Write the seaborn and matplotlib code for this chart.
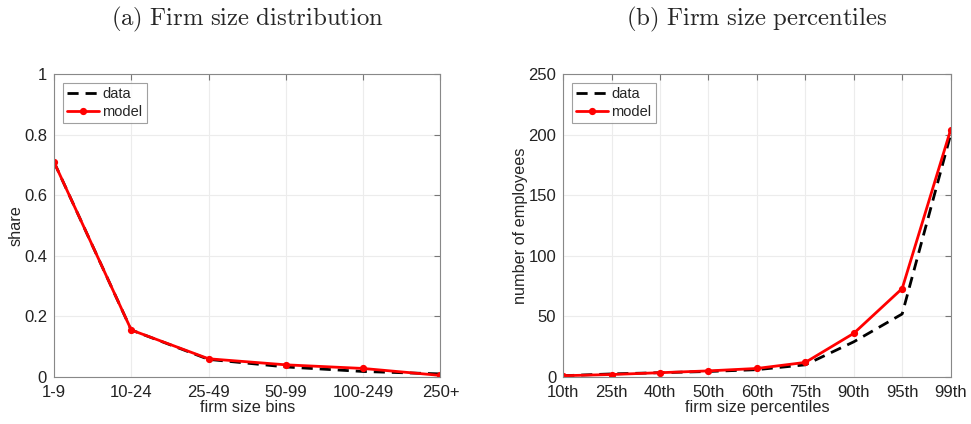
import matplotlib
matplotlib.use("Agg")
import matplotlib.pyplot as plt
import numpy as np
import pandas as pd
import seaborn as sns

# ------------------------------------------------------------------
# data
# ------------------------------------------------------------------
bins = ["1-9", "10-24", "25-49", "50-99", "100-249", "250+"]
share_data = [0.71, 0.155, 0.058, 0.033, 0.018, 0.010]
share_model = [0.71, 0.155, 0.060, 0.040, 0.028, 0.005]

pct = ["10th", "25th", "40th", "50th", "60th", "75th", "90th", "95th", "99th"]
emp_data = [1.0, 2.5, 3.5, 4.5, 6.0, 10.0, 29.0, 52.0, 200.0]
emp_model = [1.0, 2.0, 3.5, 5.0, 7.0, 12.0, 36.0, 73.0, 204.0]

sns.set_style("whitegrid")
plt.rcParams["font.family"] = ["Liberation Sans", "DejaVu Sans"]
plt.rcParams["mathtext.fontset"] = "cm"

fig = plt.figure(figsize=(9.71, 4.24), dpi=100)
ax1 = fig.add_axes([0.0556, 0.111, 0.398, 0.714])
ax2 = fig.add_axes([0.580, 0.111, 0.399, 0.714])


def draw(ax, cats, d, m, ylim, yticks, ylabel, xlabel, title):
    x = np.arange(len(cats))
    df = pd.DataFrame({"x": np.concatenate([x, x]),
                       "y": d + m,
                       "series": ["data"] * len(x) + ["model"] * len(x)})
    sns.lineplot(data=df[df.series == "data"], x="x", y="y", ax=ax,
                 color="black", linestyle=(0, (4, 2.5)), linewidth=2, label="data")
    sns.lineplot(data=df[df.series == "model"], x="x", y="y", ax=ax,
                 color="#ff0000", linewidth=2, marker="o", markersize=4,
                 markeredgewidth=1.2, markeredgecolor="#ff0000", label="model")
    ax.set_xlim(0, len(cats) - 1)
    ax.set_ylim(*ylim)
    ax.set_xticks(x)
    ax.set_xticklabels(cats)
    ax.set_yticks(yticks)
    ax.set_yticklabels([f"{t:g}" for t in yticks])
    ax.tick_params(axis="both", which="both", direction="in", length=4,
                   top=True, right=True, labelsize=12, color="#777777",
                   labelcolor="#222222")
    ax.tick_params(axis="y", pad=5)
    ax.tick_params(axis="x", pad=6)
    ax.grid(True, color="#ececec", linewidth=0.8)
    for s in ax.spines.values():
        s.set_color("#888888")
        s.set_linewidth(0.8)
    ax.set_xlabel(xlabel, fontsize=11.7, labelpad=0)
    ax.set_ylabel(ylabel, fontsize=11.7, labelpad=0)
    ax.set_title(title, fontsize=17.8, pad=35)
    leg = ax.legend(loc="upper left", fontsize=10.5, frameon=True, fancybox=False,
                    handlelength=2.2, handletextpad=0.2, borderpad=0.3,
                    labelspacing=0.25, borderaxespad=0.6)
    leg.get_frame().set_edgecolor("#888888")
    leg.get_frame().set_linewidth(0.8)


draw(ax1, bins, share_data, share_model, (0, 1), [0, 0.2, 0.4, 0.6, 0.8, 1],
     "share", "firm size bins", r"$\mathrm{(a)\ Firm\ size\ distribution}$")
draw(ax2, pct, emp_data, emp_model, (0, 250), [0, 50, 100, 150, 200, 250],
     "number of employees", "firm size percentiles",
     r"$\mathrm{(b)\ Firm\ size\ percentiles}$")

fig.savefig("out.png", dpi=100)
